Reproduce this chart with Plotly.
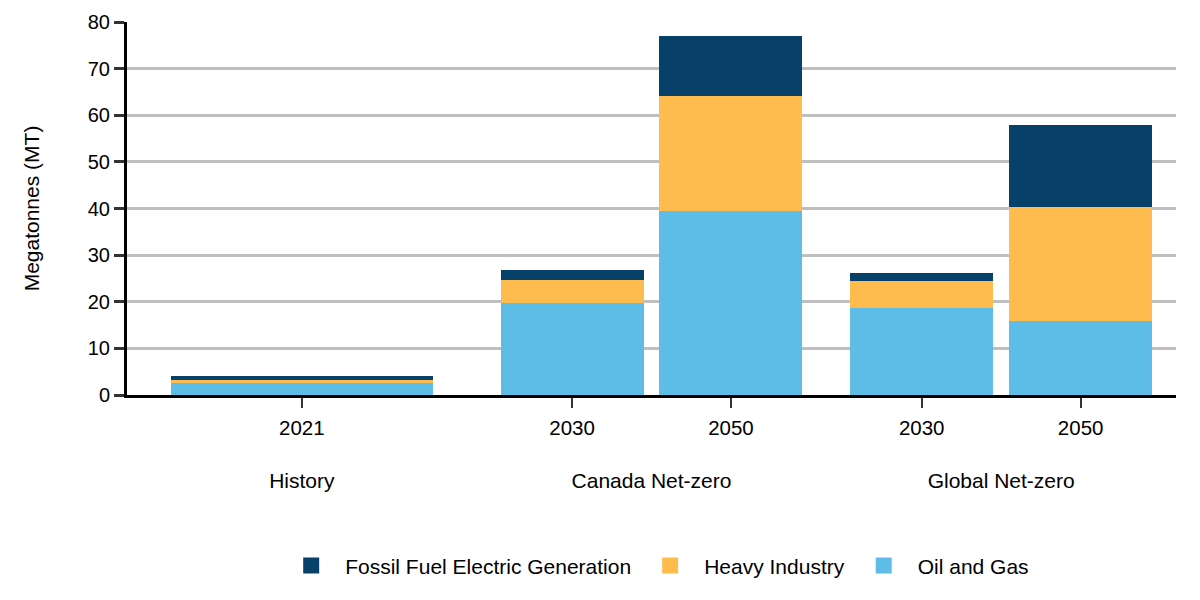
import plotly.graph_objects as go
from plotly.subplots import make_subplots

# ---- data ----
scenario = ["History", "Canada Net-zero", "Canada Net-zero", "Global Net-zero", "Global Net-zero"]
year = ["2021", "2030", "2050", "2030", "2050"]
oil_gas = [2.5, 19.7, 39.5, 18.7, 15.9]
heavy_industry = [0.7, 5.0, 24.7, 5.8, 24.4]
fossil_elec = [0.9, 2.1, 12.8, 1.7, 17.6]
groups = ["History", "Canada Net-zero", "Global Net-zero"]
y_ticks = [0, 10, 20, 30, 40, 50, 60, 70, 80]

series = [
    ("Oil and Gas", oil_gas, "#5dbde6"),
    ("Heavy Industry", heavy_industry, "#febc4e"),
    ("Fossil Fuel Electric Generation", fossil_elec, "#07416a"),
]

FONT = "Liberation Sans, Arial, sans-serif"

fig = make_subplots(rows=1, cols=3, shared_yaxes=True, horizontal_spacing=0)

for gi, g in enumerate(groups):
    idx = [k for k, s in enumerate(scenario) if s == g]
    xs = [year[k] for k in idx]
    w = 0.75 if len(idx) == 1 else 0.9
    for name, vals, color in series:
        fig.add_trace(
            go.Bar(
                x=xs,
                y=[vals[k] for k in idx],
                name=name,
                marker=dict(color=color, line=dict(width=0)),
                width=[w] * len(idx),
                showlegend=False,
                legendgroup=name,
            ),
            row=1, col=gi + 1,
        )
    rng = [-0.5, 0.5] if len(idx) == 1 else [-0.6, 1.6]
    fig.update_xaxes(
        type="category", range=rng, automargin=False,
        showline=True, linecolor="black", linewidth=3,
        ticks="outside", ticklen=10, tickwidth=2, tickcolor="#333333",
        tickfont=dict(size=20.5, color="black", family=FONT),
        ticklabelstandoff=2,
        showgrid=False, zeroline=False,
        title=dict(text=g, font=dict(size=21, color="black", family=FONT), standoff=36),
        row=1, col=gi + 1,
    )

# legend entries (square swatches like the reference)
for name, vals, color in series:
    fig.add_trace(
        go.Scatter(
            x=[None], y=[None], mode="markers", name=name, legendgroup=name,
            marker=dict(symbol="square", size=17, color=color),
            showlegend=True, hoverinfo="skip",
        ),
        row=1, col=1,
    )

fig.update_yaxes(
    range=[0, 80], tickvals=y_ticks, showgrid=True, gridcolor="#bfbfbf", gridwidth=2.5,
    zeroline=False, automargin=False,
)
fig.update_yaxes(
    showline=True, linecolor="black", linewidth=3,
    ticks="outside", ticklen=10, tickwidth=3, tickcolor="#333333",
    tickfont=dict(size=20, color="black", family=FONT),
    ticklabelstandoff=0,
    title=dict(text="Megatonnes (MT)", font=dict(size=21, color="black", family=FONT), standoff=43),
    row=1, col=1,
)
fig.update_yaxes(showline=False, ticks="", row=1, col=2)
fig.update_yaxes(showline=False, ticks="", row=1, col=3)

fig.update_layout(
    barmode="stack",
    width=1200, height=600,
    margin=dict(l=119, r=32, t=14, b=213, autoexpand=False),
    plot_bgcolor="white", paper_bgcolor="white",
    font=dict(family=FONT, size=20, color="black"),
    showlegend=True,
    legend=dict(
        orientation="h", x=0.504, xanchor="center", y=-0.458, yanchor="middle",
        traceorder="reversed", itemwidth=58, itemsizing="trace",
        font=dict(size=21, color="black", family=FONT),
    ),
)

fig.write_html("out.html")
